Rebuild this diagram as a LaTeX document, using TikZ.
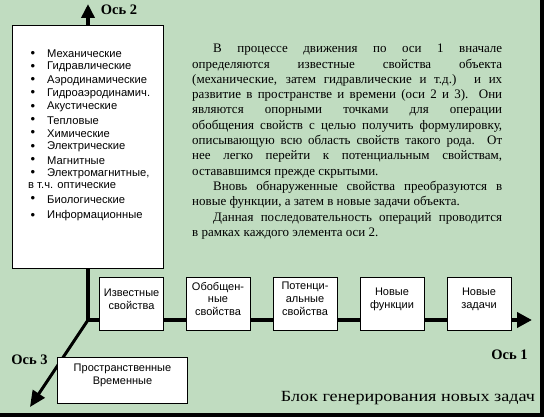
\documentclass[tikz,border=0pt]{standalone}
\usepackage{fontspec}
\setmainfont{Liberation Serif}
\setsansfont{Liberation Sans}
\usetikzlibrary{arrows.meta}
\definecolor{bg}{HTML}{C0DCC0}
\begin{document}
\begin{tikzpicture}[x=1pt,y=-1pt,
  box/.style={draw=black, fill=white, line width=0.8pt, minimum width=64pt, minimum height=53pt, inner sep=0pt},
  lbl/.style={align=center, font=\sffamily\fontsize{11}{12.8}\selectfont, yshift=4.5pt, inner sep=0pt},
  axisline/.style={line width=4pt},
  item/.style={anchor=west, font=\sffamily\fontsize{11.2}{12}\selectfont, inner sep=0pt},
  bul/.style={anchor=center, font=\sffamily\fontsize{13}{12}\selectfont, inner sep=0pt},
  axlabel/.style={font=\bfseries\fontsize{14.5}{16}\selectfont, inner sep=0pt}]
\useasboundingbox (0,0) rectangle (544,417);
\fill[black] (0,0) rectangle (544,417);
\fill[bg] (0,0) rectangle (540,413);

\coordinate (o) at (88,320);
\coordinate (t1) at (532,320);
\coordinate (t2) at (88,4);
\coordinate (t3) at (30,407);

\draw[axisline, {Triangle[length=14pt,width=13pt]}-{Triangle[length=15pt,width=15pt]}] (t2) -- (o) -- (t1);
\draw[line width=3pt, -{Triangle[length=16pt,width=14pt]}] (o) -- (t3);

% list box
\node[draw=black, fill=white, line width=0.8pt, anchor=north west, minimum width=151pt, minimum height=243pt, inner sep=0pt] (props) at (12,25) {};
\foreach \y/\t in {54/Механические, 67.3/Гидравлические, 80.6/Аэродинамические, 93.9/Гидроаэродинамич., 107.2/Акустические, 120.5/Тепловые, 133.8/Химические, 147.1/Электрические, 160.4/Магнитные, 173.7/{Электромагнитные,}, 199.3/Биологические, 216/Информационные}{
  \node[bul] at (33,\y) {\textbullet};
  \node[item] at (47,\y) {\t};
}
\node[item] (opt) at (28,186) {в т.ч. оптические};

% paragraph
\node[anchor=north west, inner sep=0pt, text width=310pt, align=justify, font=\fontsize{13}{15.3}\selectfont] (para) at (192,44) {\tolerance=10000\hbadness=10000
\hspace*{21pt}В процессе движения по оси 1 вначале\linebreak
определяются известные свойства объекта\linebreak
(механические, затем гидравлические и т.д.) и их\linebreak
развитие в пространстве и времени (оси 2 и 3). Они\linebreak
являются опорными точками для операции\linebreak
обобщения свойств с целью получить формулировку,\linebreak
описывающую всю область свойств такого рода. От\linebreak
нее легко перейти к потенциальным свойствам,\linebreak
остававшимся прежде скрытыми.\par
\hspace*{21pt}Вновь обнаруженные свойства преобразуются в\linebreak
новые функции, а затем в новые задачи объекта.\par
\hspace*{21pt}Данная последовательность операций проводится\linebreak
в рамках каждого элемента оси 2.\par};

% axis 1 boxes
\node[box, label={[lbl]center:{Известные\\свойства}}] (b1) at (131.6,303.5) {};
\node[box, label={[lbl]center:{Обобщен-\\ные\\свойства}}] (b2) at (218,303.5) {};
\node[box, label={[lbl]center:{Потенци-\\альные\\свойства}}] (b3) at (305,303.5) {};
\node[box, label={[lbl]center:{Новые\\функции}}] (b4) at (392,303.5) {};
\node[box, label={[lbl]center:{Новые\\задачи}}] (b5) at (479,303.5) {};

% axis 3 box
\node[box, minimum width=130pt, minimum height=46pt, label={[lbl]center:{Пространственные\\Временные}}] (b6) at (122.5,380) {};

% labels
\node[axlabel] (l2) at (119,10) {Ось 2};
\node[axlabel] (l3) at (29.5,360) {Ось 3};
\node[axlabel] (l1) at (509.5,355) {Ось 1};
\node[font=\fontsize{15.5}{17}\selectfont, inner sep=0pt] (title) at (408,398) {\scalebox{1.17}[1]{Блок генерирования новых задач}};
\end{tikzpicture}
\end{document}
